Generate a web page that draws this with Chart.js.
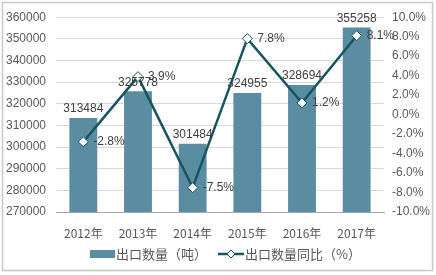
<!DOCTYPE html>
<html>
<head>
<meta charset="utf-8">
<script src="https://cdn.jsdelivr.net/npm/chart.js@4/dist/chart.umd.min.js"></script>
<style>
html, body { margin: 0; padding: 0; background: #fff; }
#wrap { width: 436px; height: 275px; position: relative; }
</style>
</head>
<body>
<div id="wrap"><canvas id="chart"></canvas></div>
<script>
const years = ["2012年", "2013年", "2014年", "2015年", "2016年", "2017年"];
const exportQty = [313484, 325778, 301484, 324955, 328694, 355258];
const yoyPct = [-2.8, 3.9, -7.5, 7.8, 1.2, 8.1];
const qtyLabel = "出口数量（吨）";
const pctLabel = "出口数量同比（%）";

const barColor = "#5b8da2";
const lineColor = "#17555f";
const textColor = "#595959";
const numFont = "Liberation Sans, Arial, sans-serif";
const cjkFont = "Noto Sans CJK SC, sans-serif";

const extras = {
	id: "extras",
	afterDatasetsDraw(chart) {
		const c = chart.ctx;
		c.save();
		c.font = "12px " + numFont;
		c.fillStyle = "#404040";
		c.textAlign = "center";
		c.textBaseline = "bottom";
		chart.getDatasetMeta(0).data.forEach((bar, i) => {
			c.fillText(String(exportQty[i]), bar.x, bar.y - 3);
		});
		c.textAlign = "left";
		c.textBaseline = "middle";
		chart.getDatasetMeta(1).data.forEach((pt, i) => {
			c.fillText(yoyPct[i].toFixed(1) + "%", pt.x + 10, pt.y);
		});
		c.restore();
	},
	afterDraw(chart) {
		const c = chart.ctx;
		c.save();
		// frame
		c.strokeStyle = "#c8c8c8";
		c.lineWidth = 1.5;
		c.strokeRect(2.5, 2.5, 430, 268);
		// legend
		const ly = 254;
		c.fillStyle = barColor;
		c.fillRect(90, ly - 4, 25, 8);
		c.font = "13px " + cjkFont;
		c.fillStyle = textColor;
		c.textBaseline = "middle";
		c.textAlign = "left";
		c.fillText(qtyLabel, 116, ly);
		c.strokeStyle = lineColor;
		c.lineWidth = 2.5;
		c.beginPath();
		c.moveTo(218, ly);
		c.lineTo(244, ly);
		c.stroke();
		c.fillStyle = "#fff";
		c.lineWidth = 1;
		c.beginPath();
		c.moveTo(231, ly - 4);
		c.lineTo(235, ly);
		c.lineTo(231, ly + 4);
		c.lineTo(227, ly);
		c.closePath();
		c.fill();
		c.stroke();
		c.fillStyle = textColor;
		c.fillText(pctLabel, 245, ly);
		c.restore();
	}
};

new Chart(document.getElementById("chart"), {
	type: "bar",
	data: {
		labels: years,
		datasets: [
			{
				label: qtyLabel,
				data: exportQty,
				backgroundColor: barColor,
				yAxisID: "y",
				categoryPercentage: 1,
				barPercentage: 0.51,
				order: 2,
			},
			{
				label: pctLabel,
				type: "line",
				data: yoyPct,
				yAxisID: "y1",
				borderColor: lineColor,
				borderWidth: 2.5,
				pointStyle: "rectRot",
				pointRadius: 5,
				pointBackgroundColor: "#fff",
				pointBorderColor: lineColor,
				pointBorderWidth: 1,
				tension: 0,
				order: 1,
			},
		],
	},
	options: {
		responsive: true,
		maintainAspectRatio: false,
		animation: false,
		layout: { padding: { top: 15, left: 0, right: 0, bottom: 0 } },
		plugins: { legend: { display: false }, tooltip: { enabled: false } },
		scales: {
			x: {
				grid: { display: false },
				border: { color: "#a6a6a6" },
				ticks: { color: textColor, font: { size: 12, family: cjkFont }, padding: 6 },
				afterFit(s) { s.height = 63; },
			},
			y: {
				position: "left",
				min: 270000,
				max: 360000,
				ticks: {
					stepSize: 10000,
					color: textColor,
					font: { size: 12, family: numFont },
					padding: 10,
					callback: v => String(v),
				},
				grid: { color: "#d9d9d9", drawTicks: false },
				border: { display: false },
				afterFit(s) { s.width = 56; },
			},
			y1: {
				position: "right",
				min: -10,
				max: 10,
				ticks: {
					stepSize: 2,
					color: textColor,
					font: { size: 12, family: numFont },
					padding: 8,
					callback: v => v.toFixed(1) + "%",
				},
				grid: { display: false, drawTicks: false },
				border: { display: false },
				afterFit(s) { s.width = 52; },
			},
		},
	},
	plugins: [extras],
});
</script>
</body>
</html>
